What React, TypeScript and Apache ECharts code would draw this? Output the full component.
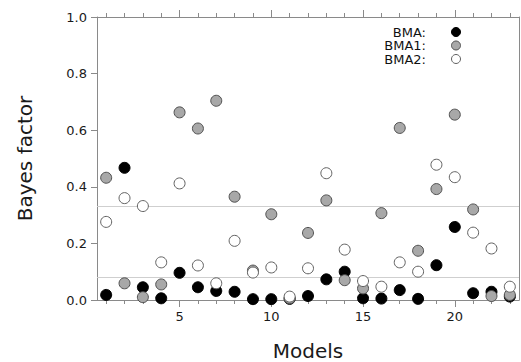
import React, { useEffect, useRef } from "react";
import * as echarts from "echarts";

const models = [1, 2, 3, 4, 5, 6, 7, 8, 9, 10, 11, 12, 13, 14, 15, 16, 17, 18, 19, 20, 21, 22, 23];
const majorTicks = [5, 10, 15, 20];
const bma = [0.018, 0.467, 0.045, 0.006, 0.096, 0.045, 0.032, 0.029, 0.003, 0.003, 0.004, 0.014, 0.073, 0.1, 0.006, 0.005, 0.035, 0.004, 0.123, 0.258, 0.024, 0.029, 0.012];
const bma1 = [0.432, 0.059, 0.01, 0.055, 0.663, 0.606, 0.704, 0.365, 0.104, 0.303, 0.006, 0.237, 0.352, 0.07, 0.041, 0.307, 0.608, 0.174, 0.392, 0.655, 0.32, 0.014, 0.018];
const bma2 = [0.276, 0.36, 0.332, 0.133, 0.412, 0.122, 0.059, 0.209, 0.097, 0.115, 0.012, 0.112, 0.448, 0.178, 0.067, 0.047, 0.133, 0.1, 0.478, 0.434, 0.238, 0.182, 0.047];
const refLines = [0.33, 0.082];
const legendNames = ["BMA:", "BMA1:", "BMA2:"];

const AXIS = "#8a8a8a";
const FONT = "DejaVu Sans";

export default function App() {
  const ref = useRef<HTMLDivElement>(null);
  useEffect(() => {
    if (!ref.current) return;
    const chart = echarts.init(ref.current, null, { renderer: "svg" });
    const styles = [
      { color: "#000000", borderColor: "#000000" },
      { color: "#a8a8a8", borderColor: "#505050" },
      { color: "#ffffff", borderColor: "#606060" },
    ];
    const mk = (vals: number[], i: number) => ({
      type: "scatter",
      name: legendNames[i],
      xAxisIndex: 0,
      yAxisIndex: 0,
      data: models.map((m, k) => [m, vals[k]]),
      symbol: "circle",
      symbolSize: 11,
      itemStyle: { ...styles[i], borderWidth: 1, opacity: 1 },
      clip: false,
      z: 3 + i,
    });
    const s0: any = mk(bma, 0);
    s0.markLine = {
      silent: true,
      symbol: "none",
      label: { show: false },
      lineStyle: { color: "#cfcfcf", type: "solid", width: 1 },
      data: refLines.map((v) => ({ yAxis: v })),
      z: 1,
    };
    const xBase = { type: "value", min: 0.5, max: 23.5, gridIndex: 0, splitLine: { show: false } };
    const legendX = 456;
    const legendY = [32, 45.5, 59];
    chart.setOption({
      animation: false,
      backgroundColor: "#ffffff",
      grid: { left: 97, right: 2, top: 17, bottom: 62, containLabel: false, outerBoundsMode: "none" },
      xAxis: [
        {
          ...xBase,
          position: "bottom",
          name: "Models",
          nameLocation: "middle",
          nameGap: 41,
          nameTextStyle: { fontFamily: FONT, fontSize: 20, color: "#1a1a1a" },
          axisLine: { show: true, lineStyle: { color: AXIS, width: 1 } },
          axisTick: { show: true, length: 7, customValues: majorTicks, lineStyle: { color: AXIS } },
          axisLabel: { show: true, customValues: majorTicks, margin: 10, fontFamily: FONT, fontSize: 13, color: "#1a1a1a" },
        },
        {
          ...xBase,
          position: "bottom",
          axisLine: { show: false },
          axisTick: { show: true, length: 4, customValues: models, lineStyle: { color: AXIS } },
          axisLabel: { show: false },
        },
        {
          ...xBase,
          position: "top",
          axisLine: { show: true, lineStyle: { color: AXIS, width: 1 } },
          axisTick: { show: true, length: 7, customValues: majorTicks, lineStyle: { color: AXIS } },
          axisLabel: { show: false },
        },
        {
          ...xBase,
          position: "top",
          axisLine: { show: false },
          axisTick: { show: true, length: 4, customValues: models, lineStyle: { color: AXIS } },
          axisLabel: { show: false },
        },
      ],
      yAxis: [
        {
          type: "value",
          position: "left",
          min: 0,
          max: 1,
          interval: 0.2,
          name: "Bayes factor",
          nameLocation: "middle",
          nameGap: 62,
          nameRotate: 90,
          nameTextStyle: { fontFamily: FONT, fontSize: 20, color: "#1a1a1a" },
          splitLine: { show: false },
          axisLine: { show: true, lineStyle: { color: AXIS, width: 1 } },
          axisTick: { show: true, length: 6, lineStyle: { color: AXIS } },
          axisLabel: {
            margin: 10,
            fontFamily: FONT,
            fontSize: 13,
            color: "#1a1a1a",
            formatter: (v: number) => v.toFixed(1),
          },
        },
        {
          type: "value",
          position: "right",
          min: 0,
          max: 1,
          splitLine: { show: false },
          axisLine: { show: true, lineStyle: { color: AXIS, width: 1 } },
          axisTick: { show: false },
          axisLabel: { show: false },
        },
      ],
      series: [s0, mk(bma1, 1), mk(bma2, 2)],
      graphic: [
        ...legendNames.map((n, i) => ({
          type: "text",
          right: 521 - 426,
          top: legendY[i] - 6.5,
          style: { text: n, fontFamily: FONT, fontSize: 13, lineHeight: 13, fill: "#111" },
          z: 10,
        })),
        ...legendNames.map((n, i) => ({
          type: "circle",
          shape: { cx: legendX, cy: legendY[i], r: 4.5 },
          style: { fill: styles[i].color, stroke: styles[i].borderColor, lineWidth: 1 },
          z: 10,
        })),
      ],
    });
    return () => chart.dispose();
  }, []);
  return <div ref={ref} style={{ position: "fixed", left: 0, top: 0, width: 521, height: 362 }} />;
}
